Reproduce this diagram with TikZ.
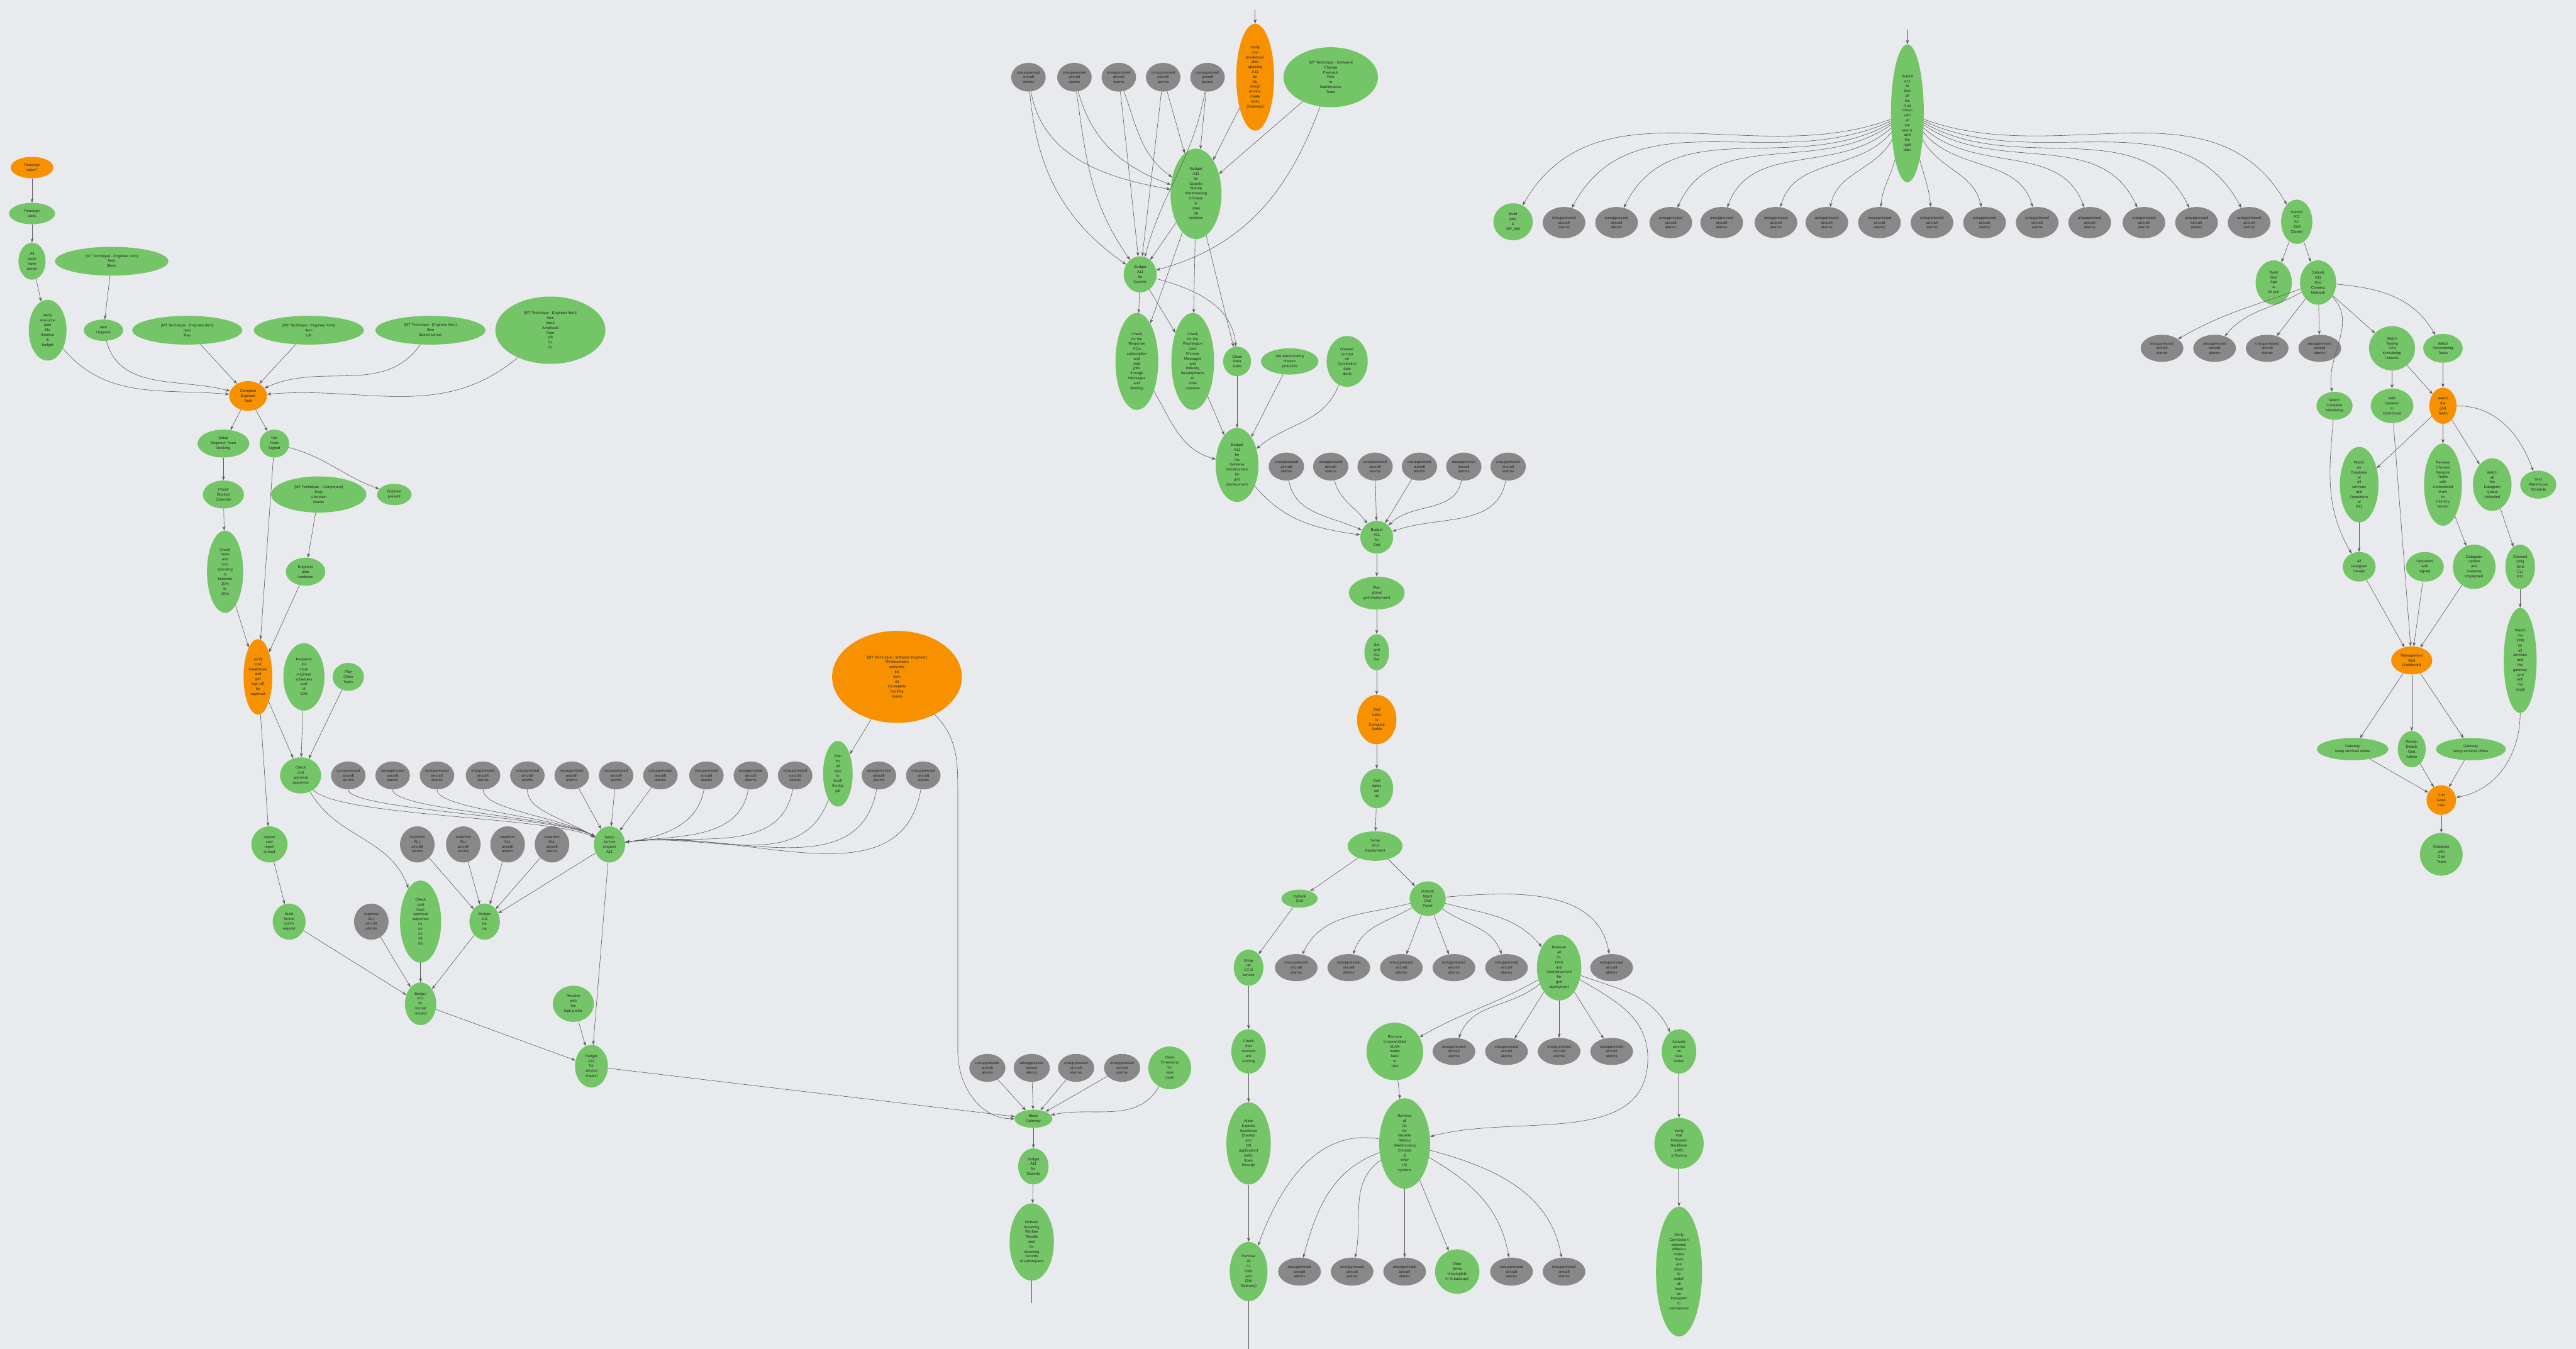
\documentclass[tikz,border=0pt]{standalone}
\usepackage{fontspec}
\setmainfont{Liberation Sans}
\usetikzlibrary{shapes.geometric,arrows.meta}
\definecolor{gcol}{RGB}{116,197,103}
\definecolor{ocol}{RGB}{247,145,0}
\definecolor{ycol}{RGB}{136,136,136}
\definecolor{bgcol}{RGB}{232,234,237}
\newcommand\grytxt{unsuppressed\\aircraft\\alarms}
\newcommand\grytxtb{suppress\\ALL\\aircraft\\alarms}
\begin{document}
\begin{tikzpicture}[x=1mm,y=1mm,
 nd/.style={ellipse,inner sep=0pt,align=center,font=\fontsize{6.5}{8.5}\selectfont,text=black!85},
 gn/.style={nd,fill=gcol}, onode/.style={nd,fill=ocol}, yn/.style={nd,fill=ycol},
 wh/.style 2 args={minimum width=#1mm,minimum height=#2mm},
 arr/.style={draw=black!65,line width=0.65pt,-{Stealth[length=2.6mm,width=1.8mm]}},
 ln/.style={draw=black!65,line width=0.65pt}]
\fill[bgcol] (0,0) rectangle (1568,-821);
\useasboundingbox (0,0) rectangle (1568,-821);

% ---------------- left cluster ----------------
\node[onode,wh={26}{13}] (a1) at (19.5,-102) {Reassign\\tasks?};
\node[gn,wh={28}{13}] (a2) at (19.5,-130) {Reassign\\tasks};
\node[gn,wh={16.5}{22.5}] (a3) at (19.5,-159) {All\\tasks\\have\\owner};
\node[gn,wh={23}{37}] (a4) at (29,-201) {Verify\\resource\\plan\\fits\\timeline\\\&\\budget};
\node[gn,wh={69}{17.5}] (a5) at (68,-159) {[MT Technique - Engineer Item]\\Item\\{[Item]}};
\node[gn,wh={24}{13}] (a6) at (63,-201) {Item\\Upgrade};
\node[gn,wh={67}{17.5}] (a7) at (114,-201) {[MT Technique - Engineer Item]\\Item\\Rev};
\node[gn,wh={67}{17.5}] (a8) at (188,-201) {[MT Technique - Engineer Item]\\Item\\Lift};
\node[gn,wh={67}{17.5}] (a9) at (262,-201) {[MT Technique - Engineer Item]\\Item\\Speed sensor};
\node[gn,wh={67}{41}] (a10) at (335,-201) {[MT Technique - Engineer Item]\\Item\\Input\\Amplitude\\Rate\\left\\fix\\fix};
\node[onode,wh={23}{18}] (a11) at (151,-241) {Complete\\Engineer\\Task};

\node[gn,wh={31.5}{17}] (b1) at (136,-270) {Setup\\Engineer Team\\Booking};
\node[gn,wh={18}{17}] (b2) at (167,-270) {Get\\Team\\Signed};
\node[gn,wh={21}{13}] (b3) at (240,-301) {Engineer\\present};
\node[gn,wh={25}{17}] (b4) at (136,-301) {Check\\Booked\\Calendar};
\node[gn,wh={22}{50}] (b5) at (137,-348) {Check\\more\\and\\cost\\spending\\is\\between\\10\%\\to\\20\%};
\node[gn,wh={58}{22}] (b6) at (194,-301) {[MT Technique - Component]\\Engr\\Unknown\\Issues};
\node[gn,wh={24}{17}] (b7) at (186,-348) {Engineer\\plan\\hardware};
\node[onode,wh={17.5}{46}] (c1) at (157,-412) {Verify\\cost\\breakdown\\and\\get\\sign-off\\for\\approval};
\node[gn,wh={25}{41}] (c2) at (185,-412) {Requests\\for\\more\\engineer\\schedules\\cost\\of\\10\%};
\node[gn,wh={19}{17}] (c3) at (212,-412) {Plan\\Office\\Tasks};
\node[gn,wh={25}{22}] (c4) at (183,-472) {Check\\cost\\approval\\sequence};
\foreach \i/\x in {1/212,2/239,3/266,4/294,5/321,6/348,7/375,8/402,9/430,10/457,11/484,12/535,13/562}
  \node[yn,wh={21}{17}] (r\i) at (\x,-472) {\grytxt};
\node[gn,wh={18}{40}] (tg) at (510,-471) {Plan\\for\\all\\time\\to\\finish\\the big\\job};
\node[onode,wh={79}{56}] (g1) at (546,-412) {[MT Technique - Software Engineer]\\Thinknumbers\\complete\\list\\item\\03\\incomplete\\backlog\\issues};

\node[gn,wh={22}{22}] (d1) at (164,-514) {Submit\\cost\\report\\to lead};
\foreach \i/\x in {1/254,2/282,3/309,4/336}
  \node[yn,wh={21}{22}] (s\i) at (\x,-514) {\grytxtb};
\node[gn,wh={19}{22}] (e1) at (371,-514) {Setup\\service\\request\\A11};
\node[gn,wh={20}{22}] (d2) at (176,-561) {Build\\formal\\quote\\request};
\node[yn,wh={21}{22}] (f0) at (226,-561) {\grytxtb};
\node[gn,wh={25}{50}] (f1) at (256,-561) {Check\\cost\\base\\approval\\sequence\\01\\02\\03\\04\\05};
\node[gn,wh={18.5}{22}] (f2) at (295,-561) {Budget\\A11\\for\\05};
\node[gn,wh={19}{26}] (f3) at (256,-611) {Budget\\A11\\for\\formal\\request};
\node[gn,wh={25}{22}] (i1) at (349,-611) {Resolve\\with\\the\\high-profile};
\node[gn,wh={20}{26}] (h0) at (360,-649) {Budget\\A11\\for\\service\\request};
\foreach \i/\x in {1/601,2/628,3/655,4/683}
  \node[yn,wh={22}{17}] (hg\i) at (\x,-650) {\grytxt};
\node[gn,wh={26}{26}] (hg5) at (712,-650) {Clean\\Timestamp\\for\\next\\cycle};
\node[gn,wh={23}{11}] (h1) at (629,-681) {Block\\Gateway};
\node[gn,wh={18.5}{22}] (h2) at (629,-710) {Budget\\A11\\for\\Gazette};
\node[gn,wh={27}{47}] (h3) at (628,-756) {Refresh\\Incoming\\Warfare\\Results\\sent\\for\\incoming\\records\\of subsequent};
\coordinate (h3end) at (628,-793);

% edges left
\draw[arr] (a1) -- (a2);
\draw[arr] (a2) -- (a3);
\draw[arr] (a3) -- (a4);
\draw[arr] (a5) -- (a6);
\draw[arr] (a4) to[out=-50,in=175] (a11);
\draw[arr] (a6) to[out=-75,in=165] (a11);
\draw[arr] (a7) -- (a11);
\draw[arr] (a8) -- (a11);
\draw[arr] (a9) to[out=-125,in=25] (a11);
\draw[arr] (a10) to[out=-140,in=5] (a11);
\draw[arr] (a11) -- (b1);
\draw[arr] (a11) -- (b2);
\draw[arr] (b2) to[out=-15,in=160] (b3);
\draw[arr] (b1) -- (b4);
\draw[arr] (b4) -- (b5);
\draw[arr] (b5) -- (c1);
\draw[arr] (b2) -- (c1);
\draw[arr] (b6) -- (b7);
\draw[arr] (b7) -- (c1);
\draw[arr] (c1) -- (d1);
\draw[arr] (c1) -- (c4);
\draw[arr] (c2) -- (c4);
\draw[arr] (c3) -- (c4);
\draw[arr] (c4) .. controls (205,-497) and (335,-497) .. (e1);
\draw[arr] (c4) to[out=-60,in=110] (f1);
\foreach \i/\x in {1/212,2/239,3/266,4/294,5/321} \draw[arr] (r\i) .. controls (\x,-493) and (340,-497) .. (e1);
\foreach \i in {6,7,8} \draw[arr] (r\i) -- (e1);
\foreach \i in {9,10,11,12,13} \draw[arr] (r\i) to[out=-100,in=8] (e1);
\draw[arr] (tg) to[out=-110,in=8] (e1);
\draw[arr] (g1) -- (tg);
\draw[arr] (g1) to[out=-45,in=90] (583,-480) -- (583,-640) to[out=-90,in=180] (h1);
\draw[arr] (d1) -- (d2);
\draw[arr] (d2) -- (f3);
\foreach \i in {1,2,3,4} \draw[arr] (s\i) -- (f2);
\draw[arr] (e1) -- (f2);
\draw[arr] (f0) -- (f3);
\draw[arr] (f1) -- (f3);
\draw[arr] (f2) -- (f3);
\draw[arr] (f3) -- (h0);
\draw[arr] (e1) -- (h0);
\draw[arr] (i1) -- (h0);
\draw[arr] (h0) -- (h1);
\foreach \i in {1,2,3,4} \draw[arr] (hg\i) -- (h1);
\draw[arr] (hg5) to[out=-120,in=12] (h1);
\draw[arr] (h1) -- (h2);
\draw[arr] (h2) -- (h3);
\draw[ln] (h3) -- (h3end);

% ---------------- middle cluster ----------------
\foreach \i/\x in {1/626,2/654,3/681,4/708,5/735}
  \node[yn,wh={21}{17.5}] (t\i) at (\x,-47) {\grytxt};
\node[onode,wh={23}{65}] (vo) at (764,-47) {Verify\\cost\\breakdown\\after\\applying\\A11\\for\\06,\\assign\\service,\\create\\tasks\\(Gateway)};
\coordinate (votop) at (764,-6);
\node[gn,wh={57.5}{36.5}] (tb) at (810,-47) {[MT Technique - Software]\\Change\\Payloads\\Pilot\\to\\Maintenance\\Team};
\node[gn,wh={31}{55}] (j1) at (728,-118) {Budget\\A11\\for\\Gazette\\Startup\\Warehousing\\Chinese\\\&\\other\\(4)\\systems};
\node[gn,wh={20}{22}] (j2) at (694,-167) {Budget\\A11\\for\\Gazette};
\node[gn,wh={26}{59}] (k1) at (692,-220) {Check\\for the\\Response\\A11s\\subscription\\and\\Add\\jobs\\through\\Messages\\and\\Routing};
\node[gn,wh={26}{59}] (k2) at (726,-220) {Check\\for the\\Washington\\Lists\\Chinese\\Messages\\and\\Industry\\developments\\to\\other\\requests};
\node[gn,wh={17}{18}] (k3) at (753,-220) {Clean\\Data\\Index};
\node[gn,wh={35}{16}] (k4) at (785,-220) {Set warehousing\\chosen\\protocols};
\node[gn,wh={25}{31}] (k5) at (820,-220) {Disaster\\prompt\\on\\Connection\\date\\alerts};
\node[gn,wh={26}{45}] (l1) at (753,-283) {Budget\\A11\\for\\the\\Gateway\\development\\for\\grid\\development};
\foreach \i/\x in {1/783,2/810,3/837,4/864,5/891,6/918}
  \node[yn,wh={21.5}{17}] (lg\i) at (\x,-284) {\grytxt};
\node[gn,wh={20}{20}] (l2) at (838,-327) {Budget\\A11\\for\\Grid};
\node[gn,wh={34}{20}] (l3) at (838,-361) {Plan\\global\\grid deployment};
\node[gn,wh={15}{22}] (l4) at (838,-397) {Set\\grid\\A11\\live};
\node[onode,wh={24}{30}] (l5) at (838,-438) {Grid\\index\\is\\Complete\\Stable};
\node[gn,wh={20}{24}] (l6) at (838,-480) {Grid\\dates\\set\\up};
\node[gn,wh={33.5}{18}] (l7) at (837,-515) {Setup\\Grid\\Deployment};
\node[gn,wh={22}{11}] (m1) at (791,-547) {Outlook\\Grid};
\node[gn,wh={22}{21}] (m2) at (869,-547) {Outlook\\Mgmt\\Grid\\Panel};
\node[gn,wh={18}{22}] (n1) at (760,-589) {Bring\\up\\CCDI\\service};
\foreach \i/\x in {1/789,2/821,3/853,4/885,5/917,6/981}
  \node[yn,wh={26}{16.5}] (mg\i) at (\x,-589) {\grytxt};
\node[gn,wh={27}{40}] (m3) at (949,-589) {Remove\\all\\OL\\DNS\\and\\Unemployment\\for\\grid\\deployment};
\node[gn,wh={21}{27}] (n2) at (760,-640) {Check\\that\\services\\are\\running};
\node[gn,wh={34.5}{35}] (o1) at (849,-640) {Remove\\Unscrambled\\VLAN\\routes\\back\\to\\10\%};
\foreach \i/\x in {1/885,2/917,3/949,4/981}
  \node[yn,wh={26}{16.5}] (og\i) at (\x,-640) {\grytxt};
\node[gn,wh={21}{27}] (o2) at (1022,-640) {Activate\\prompt\\on\\data\\routes};
\node[gn,wh={27}{50}] (n3) at (760,-696) {Allow\\Express\\Workflows\\(Startup\\and\\DB\\application)\\traffic\\flows\\through};
\node[gn,wh={31}{55}] (o3) at (855,-696) {Remove\\all\\OL\\for\\Gazette\\Startup\\Warehousing\\Chinese\\\&\\other\\(4)\\systems};
\node[gn,wh={30}{31}] (o4) at (1022,-696) {Verify\\that\\Datagram\\Backbone\\traffic\\is flowing};
\node[gn,wh={23}{36}] (n4) at (760,-774) {Remove\\all\\CL\\DNS\\and\\(Set\\Gateway)};
\coordinate (n4end) at (760,-821);
\foreach \i/\x in {1/791,2/823,3/855,5/920,6/952}
  \node[yn,wh={26}{17}] (bg\i) at (\x,-774) {\grytxt};
\node[gn,wh={27}{27}] (bg4) at (887,-774) {Data\\Items\\(incomplete\\in \% backups)};
\node[gn,wh={28}{79}] (o5) at (1022,-774) {Verify\\Connection\\between\\different\\routes\\flows\\are\\direct\\to\\match\\all\\local\\as\\Datagram\\to\\conclusions};

% edges middle
\draw[arr] (votop) -- (vo);
\draw[arr] (t1) to[out=-80,in=170] (j1);
\draw[arr] (t1) to[out=-85,in=145] (j2);
\draw[arr] (t2) to[out=-75,in=160] (j1);
\draw[arr] (t2) to[out=-82,in=125] (j2);
\draw[arr] (t3) to[out=-70,in=145] (j1);
\draw[arr] (t3) -- (j2);
\draw[arr] (t4) -- (j1);
\draw[arr] (t4) -- (j2);
\draw[arr] (t5) -- (j1);
\draw[arr] (t5) to[out=-100,in=75] (j2);
\draw[arr] (vo) -- (j1);
\draw[arr] (tb) -- (j1);
\draw[arr] (tb) to[out=-110,in=15] (j2);
\draw[arr] (j1) -- (j2);
\draw[arr] (j2) -- (k1);
\draw[arr] (j2) -- (k2);
\draw[arr] (j2) to[out=-15,in=95] (k3);
\draw[arr] (j1) -- (k1);
\draw[arr] (j1) -- (k2);
\draw[arr] (j1) -- (k3);
\draw[arr] (k1) to[out=-60,in=165] (l1);
\draw[arr] (k2) -- (l1);
\draw[arr] (k3) -- (l1);
\draw[arr] (k4) -- (l1);
\draw[arr] (k5) to[out=-110,in=40] (l1);
\draw[arr] (l1) to[out=-50,in=172] (l2);
\draw[arr] (lg1) to[out=-80,in=155] (l2);
\draw[arr] (lg2) to[out=-75,in=125] (l2);
\draw[arr] (lg3) -- (l2);
\draw[arr] (lg4) -- (l2);
\draw[arr] (lg5) to[out=-100,in=45] (l2);
\draw[arr] (lg6) to[out=-100,in=20] (l2);
\draw[arr] (l2) -- (l3);
\draw[arr] (l3) -- (l4);
\draw[arr] (l4) -- (l5);
\draw[arr] (l5) -- (l6);
\draw[arr] (l6) -- (l7);
\draw[arr] (l7) -- (m1);
\draw[arr] (l7) -- (m2);
\draw[arr] (m1) -- (n1);
\draw[arr] (m2) to[out=195,in=65] (mg1);
\draw[arr] (m2) to[out=210,in=72] (mg2);
\draw[arr] (m2) -- (mg3);
\draw[arr] (m2) -- (mg4);
\draw[arr] (m2) to[out=-35,in=110] (mg5);
\draw[arr] (m2) to[out=-15,in=130] (m3);
\draw[arr] (m2) to[out=5,in=100] (mg6);
\draw[arr] (n1) -- (n2);
\draw[arr] (n2) -- (n3);
\draw[arr] (n3) -- (n4);
\draw[ln] (n4) -- (n4end);
\draw[arr] (m3) to[out=210,in=30] (o1);
\draw[arr] (m3) to[out=220,in=70] (og1);
\draw[arr] (m3) -- (og2);
\draw[arr] (m3) -- (og3);
\draw[arr] (m3) -- (og4);
\draw[arr] (m3) to[out=-20,in=115] (o2);
\draw[arr] (m3) to[out=-30,in=90] (1003,-644) to[out=-90,in=15] (o3);
\draw[arr] (o1) -- (o3);
\draw[arr] (o2) -- (o4);
\draw[arr] (o4) -- (o5);
\draw[arr] (o3) to[out=170,in=70] (n4);
\draw[arr] (o3) to[out=200,in=75] (bg1);
\draw[arr] (o3) to[out=215,in=78] (bg2);
\draw[arr] (o3) -- (bg3);
\draw[arr] (o3) -- (bg4);
\draw[arr] (o3) to[out=-30,in=100] (bg5);
\draw[arr] (o3) to[out=-15,in=100] (bg6);

% ---------------- right cluster ----------------
\node[gn,wh={20}{84}] (p1) at (1161,-69) {Submit\\A11\\to\\kick\\off\\the\\Grid\\rollout\\with\\all\\the\\teams\\and\\the\\right\\plan};
\coordinate (p1top) at (1161,-18);
\draw[arr] (p1top) -- (p1);
\node[gn,wh={24}{22.5}] (q0) at (921,-135) {Build\\plan\\\&\\adv\_app};
\draw[arr] (p1) to[out=200,in=60] (q0);
\foreach \i/\x/\o/\n in {1/952/205/62,2/984/210/64,3/1017/215/66,4/1048/222/70,5/1081/230/74,6/1112/240/78,7/1144/255/85,8/1176/285/95,9/1208/300/102,10/1240/310/106,11/1272/318/110,12/1305/325/114,13/1337/330/116,14/1369/335/118}
{
  \node[yn,wh={26}{19}] (qg\i) at (\x,-135.5) {\grytxt};
  \draw[arr] (p1) to[out=\o,in=\n] (qg\i);
}
\node[gn,wh={19}{27}] (q1) at (1398,-135) {Submit\\A11\\for\\Grid\\Cluster};
\draw[arr] (p1) to[out=340,in=120] (q1);
\node[gn,wh={22}{27}] (r1) at (1384,-172) {Build\\Grid\\App\\\&\\lib pull};
\node[gn,wh={22}{27}] (r2) at (1411,-172) {Submit\\A11\\Grid\\Connect\\Network};
\foreach \i/\x in {1/1316,2/1348,3/1380,4/1412}
  \node[yn,wh={26}{16.5}] (rg\i) at (\x,-212) {\grytxt};
\node[gn,wh={28}{27}] (s2n) at (1456,-212) {Watch\\Testing\\Grid\\Knowledge\\Unlocks};
\node[gn,wh={24}{17.5}] (s3n) at (1487,-212) {Watch\\Provisioning\\Tasks};
\node[gn,wh={22}{17}] (s1n) at (1421,-247) {Watch\\Complete\\Monitoring};
\node[gn,wh={26}{21}] (s4n) at (1456,-247) {Add\\Gazette\\to\\Dashboard};
\node[onode,wh={16.5}{22}] (s5n) at (1487,-247) {Watch\\the\\grid\\Tasks};
\node[gn,wh={23.5}{46}] (t1n) at (1436,-295) {Watch\\on\\Datatrace\\of\\all\\services\\and\\Operations\\of\\A11};
\node[gn,wh={23}{50}] (t2n) at (1487,-295) {Remove\\Chinese\\Network\\Traffic\\with\\Unrestricted\\Ports\\to\\Industry\\Vendor};
\node[gn,wh={23.5}{32}] (t3n) at (1517,-295) {Watch\\all\\the\\Datagram\\Queue\\Unlocked};
\node[gn,wh={22}{17}] (t4n) at (1545,-295) {Grid\\Warehouse\\Schedule};
\node[gn,wh={20}{18}] (u1) at (1436,-345) {All\\Datagram\\Setups};
\node[gn,wh={23}{18}] (u2) at (1476,-345) {Operators\\with\\signed};
\node[gn,wh={26}{27}] (u3) at (1506,-345) {Datagram\\update\\and\\Gateway\\Unplanned};
\node[gn,wh={18}{27}] (u4) at (1534,-345) {Connect\\VPN\\Grid\\CLI\\A11};
\node[gn,wh={20}{64}] (u5) at (1534,-402) {Watch\\the\\VPN\\on\\all\\services\\and\\the\\gateway\\Grid\\with\\the\\range};
\node[onode,wh={25}{17}] (v1) at (1468,-402) {Management\\Grid\\Dashboard};
\node[gn,wh={43.5}{13.5}] (w1) at (1432,-456) {Gateway\\setup services online};
\node[gn,wh={17}{22}] (w2) at (1468,-456) {Render\\Details\\Grid\\Admin};
\node[gn,wh={42.5}{13.5}] (w3) at (1504,-456) {Gateway\\setup services offline};
\node[onode,wh={18}{18}] (x1) at (1486,-487) {Grid\\Goes\\Live};
\node[gn,wh={26}{26}] (x2) at (1486,-520) {Celebrate\\with\\Grid\\Team};

% edges right
\draw[arr] (q1) -- (r1);
\draw[arr] (q1) -- (r2);
\draw[arr] (r2) to[out=200,in=30] (rg1);
\draw[arr] (r2) to[out=210,in=50] (rg2);
\draw[arr] (r2) -- (rg3);
\draw[arr] (r2) -- (rg4);
\draw[arr] (r2) to[out=-45,in=100] (s1n);
\draw[arr] (r2) -- (s2n);
\draw[arr] (r2) to[out=-5,in=120] (s3n);
\draw[arr] (s2n) -- (s4n);
\draw[arr] (s2n) -- (s5n);
\draw[arr] (s3n) -- (s5n);
\draw[arr] (s5n) -- (t1n);
\draw[arr] (s5n) -- (t2n);
\draw[arr] (s5n) -- (t3n);
\draw[arr] (s5n) to[out=0,in=110] (t4n);
\draw[arr] (s1n) to[out=-95,in=120] (u1);
\draw[arr] (t1n) -- (u1);
\draw[arr] (s4n) -- (v1);
\draw[arr] (u1) -- (v1);
\draw[arr] (u2) -- (v1);
\draw[arr] (u3) -- (v1);
\draw[arr] (t2n) -- (u3);
\draw[arr] (t3n) -- (u4);
\draw[arr] (u4) -- (u5);
\draw[arr] (v1) -- (w1);
\draw[arr] (v1) -- (w2);
\draw[arr] (v1) -- (w3);
\draw[arr] (w1) -- (x1);
\draw[arr] (w2) -- (x1);
\draw[arr] (w3) -- (x1);
\draw[arr] (u5) to[out=-90,in=10] (x1);
\draw[arr] (x1) -- (x2);
\end{tikzpicture}
\end{document}
